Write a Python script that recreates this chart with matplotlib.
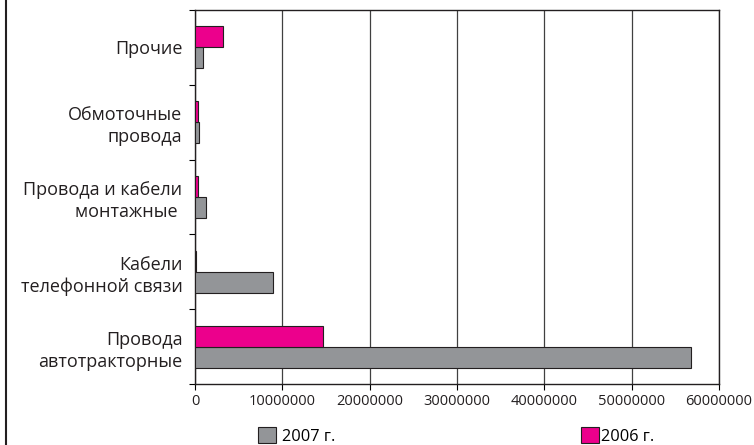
import matplotlib
matplotlib.use("Agg")
import matplotlib.pyplot as plt
from matplotlib.patches import Patch
from matplotlib.lines import Line2D
import numpy as np

plt.rcParams['font.family'] = ['Open Sans', 'DejaVu Sans']

categories = ["Провода\nавтотракторные", "Кабели\nтелефонной связи",
              "Провода и кабели\nмонтажные ", "Обмоточные\nпровода", "Прочие"]
values_2007 = [56800000, 8900000, 1300000, 500000, 950000]
values_2006 = [14700000, 150000, 300000, 300000, 3250000]
xticks = [0, 10000000, 20000000, 30000000, 40000000, 50000000, 60000000]

c2007 = "#939598"
c2006 = "#EC008C"
edge = "#231F20"

fig = plt.figure(figsize=(7.54, 4.45), dpi=100)
ax = fig.add_axes([195/754, 1-384/445, (719-195)/754, (384-10)/445])

y = np.arange(len(categories))
h = 0.28
ax.barh(y - h/2, values_2007, height=h, color=c2007, edgecolor=edge, linewidth=0.8, zorder=3)
ax.barh(y + h/2, values_2006, height=h, color=c2006, edgecolor=edge, linewidth=0.8, zorder=3)

ax.set_xlim(0, 60000000)
ax.set_ylim(-0.5, len(categories) - 0.5)
ax.set_xticks(xticks)
ax.set_xticklabels([str(v) for v in xticks], fontsize=10.5, color="#231F20")
ax.set_yticks(y)
ax.set_yticklabels(categories, fontsize=13, color="#231F20", ha="right",
                   multialignment="right", linespacing=1.3)
ax.tick_params(axis='y', length=0, pad=9)
ax.set_yticks(np.arange(-0.5, len(categories)), minor=True)
ax.tick_params(axis='y', which='minor', length=4, width=0.8, direction='out')
ax.tick_params(axis='x', length=4, width=0.8, direction='out', pad=3)
ax.xaxis.grid(True, color="#404040", linewidth=0.9, zorder=0)
ax.set_axisbelow(True)
for s in ax.spines.values():
    s.set_linewidth(1.0)
    s.set_color("#231F20")

fig.legend(handles=[Patch(facecolor=c2007, edgecolor=edge, linewidth=0.8, label="2007 г.")],
           loc="center left", bbox_to_anchor=(258/754, 1-436/445), frameon=False,
           fontsize=11.8, handlelength=1.1, handleheight=1.1, handletextpad=0.35,
           borderpad=0, borderaxespad=0)
fig.legend(handles=[Patch(facecolor=c2006, edgecolor=edge, linewidth=0.8, label="2006 г.")],
           loc="center left", bbox_to_anchor=(581/754, 1-436/445), frameon=False,
           fontsize=11.8, handlelength=1.1, handleheight=1.1, handletextpad=0.1,
           borderpad=0, borderaxespad=0)

fig.add_artist(Line2D([5.5/754, 5.5/754], [0, 1], transform=fig.transFigure, color="#231F20", linewidth=1.5))

fig.savefig("out.png", dpi=100)
